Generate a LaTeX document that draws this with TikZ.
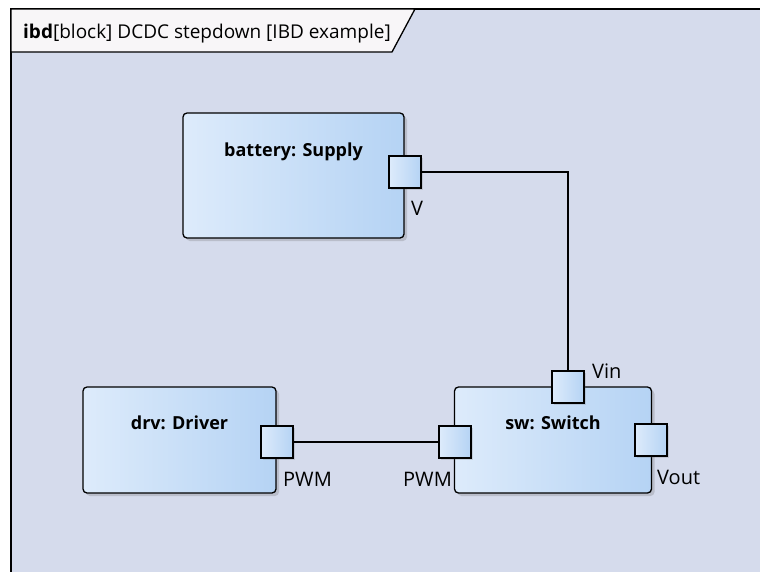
\documentclass[tikz,border=0pt]{standalone}
\usepackage{fontspec}
\setmainfont{Open Sans}
\usetikzlibrary{shadows}
\definecolor{framebg}{HTML}{D5DBEC}
\definecolor{tabbg}{HTML}{F8F6F8}
\definecolor{gradL}{HTML}{DDEBFB}
\definecolor{gradR}{HTML}{B5D3F4}
\tikzset{
  blockbox/.style={draw=black, line width=1.3pt, rounded corners=4pt, left color=gradL, right color=gradR,
    drop shadow={shadow xshift=3pt, shadow yshift=-3pt, opacity=0.25, fill=black!60}, inner sep=0pt},
  portbox/.style={draw=black, line width=1.3pt, left color=gradL, right color=gradR, minimum width=32pt, minimum height=32pt, inner sep=0pt,
    drop shadow={shadow xshift=2pt, shadow yshift=-2pt, opacity=0.2, fill=black!60}},
  blocktitle/.style={font=\fontsize{18}{21}\selectfont\bfseries, anchor=base, inner sep=0pt},
  portlabel/.style={font=\fontsize{20}{23}\selectfont, anchor=base west, inner sep=0pt},
  wire/.style={draw=black, line width=1.3pt}
}
\begin{document}
\begin{tikzpicture}[x=1pt,y=-1pt]
\useasboundingbox (0,0) rectangle (760,571);
\fill[white] (0,0) rectangle (760,571);
% frame
\fill[framebg] (11,9) rectangle (770,580);
\draw[line width=1.3pt] (770,9) -- (11,9) -- (11,580);
% title tab
\draw[line width=1.3pt, fill=tabbg] (11,9) -- (415,9) -- (392,52) -- (11,52) -- cycle;
\node[anchor=base west, inner sep=0pt, font=\fontsize{19}{22}\selectfont] (title) at (23,38) {\textbf{ibd}[block] DCDC stepdown [IBD example]};
% blocks
\node[blockbox, minimum width=221pt, minimum height=125pt] (bat) at (293.5,175.5) {};
\node[blocktitle] (batt) at (293.5,156.5) {battery: Supply};
\node[blockbox, minimum width=193pt, minimum height=106pt] (drv) at (179.5,440) {};
\node[blocktitle] (drvt) at (179.5,429.5) {drv: Driver};
\node[blockbox, minimum width=197pt, minimum height=106pt] (sw) at (553,440) {};
\node[blocktitle] (swt) at (553,429.5) {sw: Switch};
% ports
\node[portbox] (pV) at (405,172) {};
\node[portbox] (pPWMd) at (277,442) {};
\node[portbox] (pPWMs) at (455,442) {};
\node[portbox] (pVin) at (568,387) {};
\node[portbox] (pVout) at (651,440) {};
% port labels
\node[portlabel] (lV) at (411,215) {V};
\node[portlabel] (lPWMd) at (283,486) {PWM};
\node[portlabel] (lPWMs) at (403,486) {PWM};
\node[portlabel] (lVin) at (592,378) {Vin};
\node[portlabel] (lVout) at (657,484) {Vout};
% connectors
\draw[wire] (pV.east) -| (pVin.north);
\draw[wire] (pPWMd.east) -- (pPWMs.west);
\end{tikzpicture}
\end{document}
